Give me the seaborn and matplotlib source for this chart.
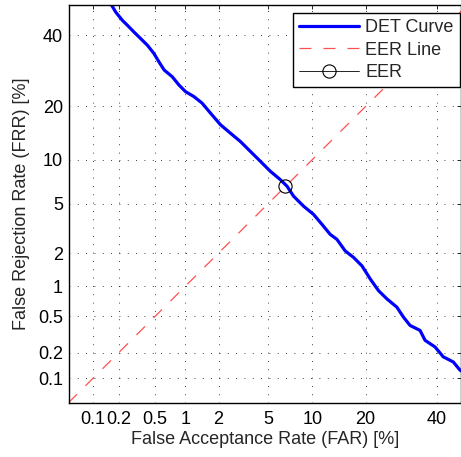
import numpy as np
import pandas as pd
import matplotlib
matplotlib.use('Agg')
import matplotlib.pyplot as plt
import seaborn as sns
from statistics import NormalDist

# DET curve (percent)
far = [0.154, 0.163, 0.186, 0.221, 0.252, 0.297, 0.351, 0.414, 0.485, 0.546,
       0.618, 0.744, 0.864, 1.00, 1.20, 1.43, 1.70, 2.08, 2.52, 3.05,
       3.66, 4.38, 5.19, 6.12, 6.82, 7.56, 8.80, 10.19, 11.48, 12.85,
       14.05, 15.63, 17.36, 19.18, 21.08, 23.12, 25.28, 27.96, 29.82, 31.75,
       34.73, 36.27, 39.39, 42.02, 45.27, 47.46, 50.7]
frr = [51.4, 50.3, 47.55, 44.85, 43.22, 41.07, 38.97, 36.89, 34.33, 31.84,
       29.45, 27.57, 25.36, 23.62, 22.38, 20.78, 18.50, 16.04, 14.42, 12.90,
       11.26, 9.76, 8.42, 7.41, 6.67, 5.67, 4.79, 4.15, 3.47, 2.88,
       2.62, 2.09, 1.83, 1.54, 1.17, 0.903, 0.750, 0.620, 0.490, 0.400,
       0.354, 0.276, 0.233, 0.180, 0.157, 0.126, 0.106]
eer = 6.65
eer_line = [0.05, 50]
ticks = [0.1, 0.2, 0.5, 1, 2, 5, 10, 20, 40]
tick_labels = ['0.1', '0.2', '0.5', '1', '2', '5', '10', '20', '40']

# normal deviate (probit) scale, values in percent
_nd = NormalDist()
_ppf = np.vectorize(lambda p: _nd.inv_cdf(min(max(p / 100.0, 1e-9), 1 - 1e-9)),
                    otypes=[float])
_cdf = np.vectorize(lambda z: 100.0 * _nd.cdf(z), otypes=[float])


def fwd(p):
    return _ppf(np.asarray(p, dtype=float))


def inv(z):
    return _cdf(np.asarray(z, dtype=float))


sns.set_style('white')
plt.rcParams['font.family'] = ['Liberation Sans', 'DejaVu Sans']
plt.rcParams['font.size'] = 13

fig = plt.figure(figsize=(4.61, 4.57), dpi=100)
ax = fig.add_axes([68.5 / 461, 1 - 402.7 / 457, 1 - 68.5 / 461, (402.7 - 4.7) / 457])
ax.set_xscale('function', functions=(fwd, inv))
ax.set_yscale('function', functions=(fwd, inv))

df = pd.DataFrame({'far': far, 'frr': frr})
sns.lineplot(data=df, x='far', y='frr', sort=False, estimator=None, color='#0000ff',
             lw=2.3, ax=ax, label='DET Curve')
ax.plot(eer_line, eer_line, color='#ff5050', lw=0.9, ls=(0, (9.6, 9.6)), label='EER Line')
ax.plot([eer], [eer], color='black', marker='o', ms=9.5, mfc='none', mew=0.8, lw=0.6,
        label='EER')

ax.set_xlim(0.05, 47.8)
ax.set_ylim(0.05, 50)
ax.set_xticks(ticks)
ax.set_xticklabels(tick_labels)
ax.set_yticks(ticks)
ax.set_yticklabels(tick_labels)
ax.minorticks_off()
ax.tick_params(direction='in', length=3, width=0.6, top=True, right=True,
               labelsize=13, colors='black')
ax.tick_params(axis='x', pad=6)
ax.tick_params(axis='y', pad=4)
ax.grid(True, ls=(0, (1, 9)), color='black', lw=0.6)
for s in ax.spines.values():
    s.set_color('black')
    s.set_linewidth(1.0)

ax.set_xlabel('False Acceptance Rate (FAR) [%]', fontsize=13, labelpad=2)
ax.set_ylabel('False Rejection Rate (FRR) [%]', fontsize=13, labelpad=6)

leg = ax.legend(loc='upper right', bbox_to_anchor=(460 / 461, 1 - 13 / 457),
                bbox_transform=fig.transFigure, borderaxespad=0,
                fontsize=13, frameon=True, fancybox=False, framealpha=1,
                edgecolor='black', borderpad=0.35, handlelength=3.3,
                handletextpad=0.35, labelspacing=0.3)
leg.get_frame().set_linewidth(1.0)

fig.savefig('out.png', dpi=100)
